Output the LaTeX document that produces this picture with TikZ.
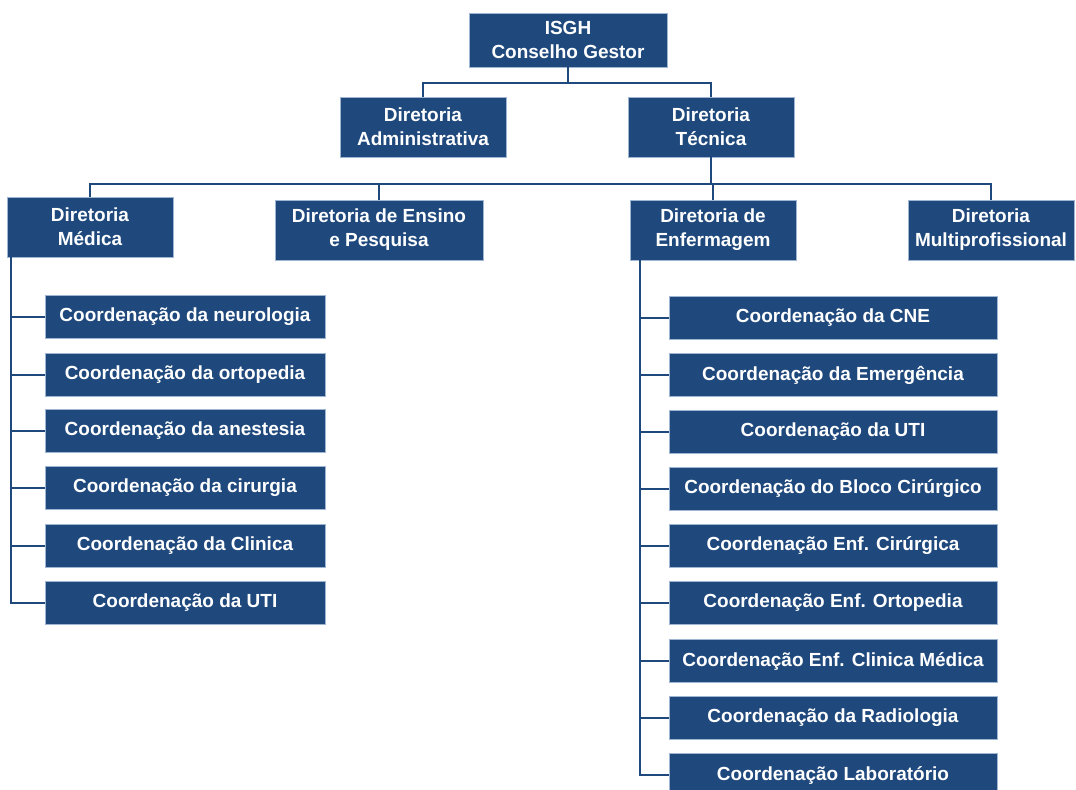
\documentclass[tikz,border=0pt]{standalone}
\usepackage{fontspec}
\setmainfont{Liberation Sans}
\usepackage{xcolor}
\usetikzlibrary{positioning}
\definecolor{orgblue}{HTML}{1F497D}
\definecolor{rimblue}{HTML}{9FB6D2}

\begin{document}
\begin{tikzpicture}[
        x=0.025cm, y=-0.025cm,
        unit/.style={rectangle, draw=rimblue, line width=0.4pt, fill=orgblue, text=white,
                     font=\bfseries\fontsize{13.5}{17}\selectfont, align=center, inner sep=0pt},
        dir/.style={unit, minimum width=4.15cm, minimum height=1.5cm},
        coordl/.style={unit, minimum width=7cm, minimum height=1.075cm},
        coordr/.style={unit, minimum width=8.2cm, minimum height=1.075cm},
        link/.style={draw=orgblue, line width=1.5pt}
    ]
        \clip (0,0) rectangle (1076,789);

        \node[unit, minimum width=4.95cm, minimum height=1.35cm] (isgh) at (568,40) {ISGH\\Conselho Gestor};
        \node[dir] (adm) at (423,127) {Diretoria\\Administrativa};
        \node[dir] (tec) at (711,127) {Diretoria\\Técnica};

        \node[dir] (med) at (90,227) {Diretoria\\Médica};
        \node[dir, minimum width=5.2cm] (ens) at (379,230) {Diretoria de Ensino\\e Pesquisa};
        \node[dir] (enf) at (713,230) {Diretoria de\\Enfermagem};
        \node[dir] (mul) at (991,230) {Diretoria\\Multiprofissional};

        % coordenacoes medicas
        \node[coordl] (m1) at (185,317) {Coordenação da neurologia};
        \node[coordl] (m2) at (185,375) {Coordenação da ortopedia};
        \node[coordl] (m3) at (185,431) {Coordenação da anestesia};
        \node[coordl] (m4) at (185,488) {Coordenação da cirurgia};
        \node[coordl] (m5) at (185,546) {Coordenação da Clinica};
        \node[coordl] (m6) at (185,603) {Coordenação da UTI};

        % coordenacoes de enfermagem
        \node[coordr] (e1) at (833,318) {Coordenação da CNE};
        \node[coordr] (e2) at (833,375) {Coordenação da Emergência};
        \node[coordr] (e3) at (833,432) {Coordenação da UTI};
        \node[coordr] (e4) at (833,489) {Coordenação do Bloco Cirúrgico};
        \node[coordr] (e5) at (833,546) {Coordenação Enf. Cirúrgica};
        \node[coordr] (e6) at (833,603) {Coordenação Enf. Ortopedia};
        \node[coordr] (e7) at (833,661) {Coordenação Enf. Clinica Médica};
        \node[coordr] (e8) at (833,718) {Coordenação da Radiologia};
        \node[coordr] (e9) at (833,775) {Coordenação Laboratório};

        \draw[link] (isgh.south) -- ++(0,16) -| (adm.north);
        \draw[link] (isgh.south) -- ++(0,16) -| (tec.north);

        \draw[link] (tec.south) -- ++(0,27) -| (med.north);
        \draw[link] (tec.south) -- ++(0,27) -| (ens.north);
        \draw[link] (tec.south) -- ++(0,27) -| (enf.north);
        \draw[link] (tec.south) -- ++(0,27) -| (mul.north);

        \draw[link] ([xshift=0.1cm]med.south west) |- (m1.west);
        \draw[link] ([xshift=0.1cm]med.south west) |- (m2.west);
        \draw[link] ([xshift=0.1cm]med.south west) |- (m3.west);
        \draw[link] ([xshift=0.1cm]med.south west) |- (m4.west);
        \draw[link] ([xshift=0.1cm]med.south west) |- (m5.west);
        \draw[link] ([xshift=0.1cm]med.south west) |- (m6.west);

        \draw[link] ([xshift=0.25cm]enf.south west) |- (e1.west);
        \draw[link] ([xshift=0.25cm]enf.south west) |- (e2.west);
        \draw[link] ([xshift=0.25cm]enf.south west) |- (e3.west);
        \draw[link] ([xshift=0.25cm]enf.south west) |- (e4.west);
        \draw[link] ([xshift=0.25cm]enf.south west) |- (e5.west);
        \draw[link] ([xshift=0.25cm]enf.south west) |- (e6.west);
        \draw[link] ([xshift=0.25cm]enf.south west) |- (e7.west);
        \draw[link] ([xshift=0.25cm]enf.south west) |- (e8.west);
        \draw[link] ([xshift=0.25cm]enf.south west) |- (e9.west);
    \end{tikzpicture}
\end{document}
